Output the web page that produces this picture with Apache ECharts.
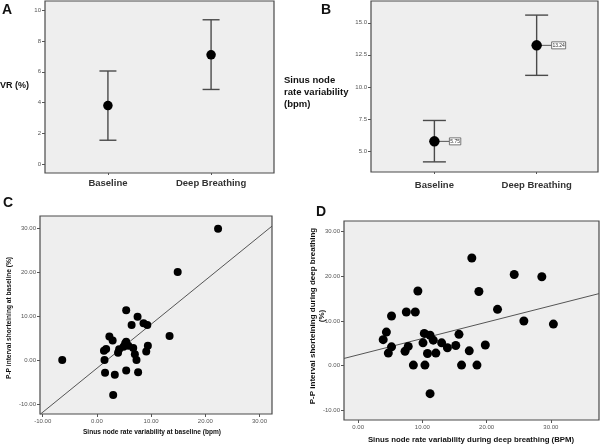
<!DOCTYPE html>
<html>
<head>
<meta charset="utf-8">
<script src="https://cdn.jsdelivr.net/npm/echarts@6/dist/echarts.min.js"></script>
<style>
html,body{margin:0;padding:0;background:#fff;}
#chart{width:600px;height:445px;}
</style>
</head>
<body>
<div id="chart"></div>
<script>
// ---------- DATA ----------
const categories = ['Baseline', 'Deep Breathing'];

// Panel A: VR (%) mean with error bars
const meanA = [3.8, 7.1];
const lowA = [1.55, 4.85];
const highA = [6.05, 9.38];
const ticksA = [0, 2, 4, 6, 8, 10];

// Panel B: Sinus node rate variability (bpm)
const meanB = [5.75, 13.24];
const lowB = [4.15, 10.9];
const highB = [7.38, 15.6];
const ticksB = [5, 7.5, 10, 12.5, 15];

// Panel C: baseline scatter [SNRV (bpm), P-P shortening (%)]
const pointsC = [
  [22.35, 29.8], [14.9, 20.0], [13.4, 5.4], [-6.4, 0.0], [3.0, -8.0],
  [5.4, 11.3], [7.5, 9.8], [6.4, 7.9], [8.6, 8.3], [9.3, 7.9],
  [2.3, 5.3], [2.9, 4.4], [5.4, 4.1], [1.3, 2.1], [1.7, 2.5],
  [4.1, 2.4], [4.9, 3.0], [5.8, 3.2], [6.7, 2.7], [3.9, 1.6],
  [7.0, 1.3], [9.4, 3.2], [9.1, 1.9], [7.3, 0.0], [1.4, 0.0],
  [1.5, -2.9], [3.3, -3.4], [5.4, -2.4], [7.6, -2.8], [5.2, 3.7]
];
const fitC = { intercept: -1.9, slope: 1.0 };
const ticksCx = [-10, 0, 10, 20, 30];
const ticksCy = [-10, 0, 10, 20, 30];

// Panel D: deep breathing scatter
const pointsD = [
  [17.7, 24.1], [24.3, 20.4], [28.6, 19.9], [9.3, 16.7], [18.8, 16.6],
  [21.7, 12.6], [5.2, 11.1], [7.5, 12.0], [8.9, 12.0], [25.8, 10.0],
  [30.4, 9.3], [4.4, 7.5], [3.9, 5.8], [5.2, 4.2], [4.7, 2.8],
  [7.8, 4.3], [7.3, 3.2], [10.3, 7.2], [11.2, 6.8], [10.1, 5.1],
  [11.7, 5.7], [10.8, 2.7], [12.1, 2.8], [13.0, 5.1], [13.9, 4.0],
  [15.2, 4.5], [15.7, 7.0], [17.3, 3.3], [8.6, 0.1], [10.4, 0.1],
  [16.1, 0.1], [18.5, 0.1], [19.8, 4.6], [11.2, -6.3]
];
const fitD = { intercept: 2.4, slope: 0.366 };
const ticksDx = [0, 10, 20, 30];
const ticksDy = [-10, 0, 10, 20, 30];

// ---------- CHART ----------
const FONT = 'Liberation Sans, Arial, sans-serif';
const chart = echarts.init(document.getElementById('chart'), null, { renderer: 'canvas' });

const gridStyle = { show: true, backgroundColor: '#eeeeee', borderColor: '#4a4a4a', borderWidth: 1.2 };
const grids = [
  Object.assign({ left: 45, top: 1, width: 229, height: 172 }, gridStyle),
  Object.assign({ left: 371, top: 1, width: 227, height: 171 }, gridStyle),
  Object.assign({ left: 40, top: 216, width: 232, height: 198 }, gridStyle),
  Object.assign({ left: 344, top: 221, width: 255, height: 199 }, gridStyle)
];

function valAxis(gridIndex, min, max, ticks, fmt) {
  return {
    type: 'value', gridIndex, min, max,
    splitLine: { show: false },
    axisLine: { show: false, onZero: false },
    axisTick: { show: true, inside: false, length: 3, customValues: ticks, lineStyle: { color: '#555' } },
    axisLabel: { show: true, customValues: ticks, formatter: fmt, fontSize: 6, color: '#555', fontFamily: FONT, margin: 4 }
  };
}

const catFmt = v => categories[Math.round(v)] || '';
const catTicks = categories.map((c, i) => i);

const xAxes = [
  valAxis(0, -0.61, 1.61, catTicks, catFmt),
  valAxis(1, -0.62, 1.60, catTicks, catFmt),
  valAxis(2, -10.5, 32.3, ticksCx, v => v.toFixed(2)),
  valAxis(3, -2.2, 37.5, ticksDx, v => v.toFixed(2))
];
xAxes[0].axisLabel = Object.assign({}, xAxes[0].axisLabel, { fontSize: 9.5, fontWeight: 'bold', color: '#333', margin: 5 });
xAxes[0].axisTick.length = 2;
xAxes[1].axisLabel = Object.assign({}, xAxes[1].axisLabel, { fontSize: 9.5, fontWeight: 'bold', color: '#333', margin: 8 });
xAxes[1].axisTick.length = 2;

const yAxes = [
  valAxis(0, -0.58, 10.6, ticksA, v => String(v)),
  valAxis(1, 3.36, 16.7, ticksB, v => v.toFixed(1)),
  valAxis(2, -12.3, 32.7, ticksCy, v => v.toFixed(2)),
  valAxis(3, -12.2, 32.4, ticksDy, v => v.toFixed(2))
];

function errorBarSeries(idx, low, high, capW) {
  return {
    type: 'custom', xAxisIndex: idx, yAxisIndex: idx,
    data: categories.map((c, i) => [i, low[i], high[i]]),
    encode: { x: 0, y: [1, 2] },
    renderItem: function (params, api) {
      const x = api.value(0);
      const pLo = api.coord([x, api.value(1)]);
      const pHi = api.coord([x, api.value(2)]);
      const st = { stroke: '#4a4a4a', lineWidth: 1.4 };
      const h = capW / 2;
      return {
        type: 'group', children: [
          { type: 'line', shape: { x1: pLo[0], y1: pLo[1], x2: pHi[0], y2: pHi[1] }, style: st },
          { type: 'line', shape: { x1: pLo[0] - h, y1: pLo[1], x2: pLo[0] + h, y2: pLo[1] }, style: st },
          { type: 'line', shape: { x1: pHi[0] - h, y1: pHi[1], x2: pHi[0] + h, y2: pHi[1] }, style: st }
        ]
      };
    },
    z: 2
  };
}

const dotStyle = { color: '#000', opacity: 1 };

function meanSeries(idx, means, size) {
  return {
    type: 'scatter', xAxisIndex: idx, yAxisIndex: idx,
    data: means.map((m, i) => [i, m]),
    symbol: 'circle', symbolSize: size,
    itemStyle: dotStyle, z: 3
  };
}

function fitLine(idx, fit, xmin, xmax) {
  return {
    type: 'line', xAxisIndex: idx, yAxisIndex: idx,
    data: [[xmin, fit.intercept + fit.slope * xmin], [xmax, fit.intercept + fit.slope * xmax]],
    symbol: 'none', clip: true,
    lineStyle: { color: '#555', width: 1 }, z: 2
  };
}

const labelB = {
  type: 'custom', xAxisIndex: 1, yAxisIndex: 1,
  data: meanB.map((m, i) => [i, m]),
  encode: { x: 0, y: 1 },
  renderItem: function (params, api) {
    const p = api.coord([api.value(0), api.value(1)]);
    const txt = api.value(1).toFixed(2);
    const w = txt.length * 2.6 + 1;
    const bx = p[0] + 15;
    return {
      type: 'group', children: [
        { type: 'line', shape: { x1: p[0], y1: p[1], x2: bx, y2: p[1] }, style: { stroke: '#555', lineWidth: 1 } },
        { type: 'rect', shape: { x: bx, y: p[1] - 3.5, width: w, height: 7 }, style: { fill: '#fff', stroke: '#555', lineWidth: 0.8 } },
        { type: 'text', style: { x: bx + w / 2, y: p[1], text: txt, fontSize: 5, fontFamily: FONT, fill: '#333', align: 'center', verticalAlign: 'middle' } }
      ]
    };
  },
  z: 1
};

const series = [
  errorBarSeries(0, lowA, highA, 17),
  meanSeries(0, meanA, 9.5),
  labelB,
  errorBarSeries(1, lowB, highB, 23),
  meanSeries(1, meanB, 10.5),
  fitLine(2, fitC, -10.5, 32.3),
  {
    type: 'scatter', xAxisIndex: 2, yAxisIndex: 2, data: pointsC,
    symbol: 'circle', symbolSize: 8, itemStyle: dotStyle, z: 3
  },
  fitLine(3, fitD, -2.2, 37.5),
  {
    type: 'scatter', xAxisIndex: 3, yAxisIndex: 3, data: pointsD,
    symbol: 'circle', symbolSize: 9, itemStyle: dotStyle, z: 3
  }
];

const titleStyle = { fontFamily: FONT, fontWeight: 'bold', fill: '#111' };
const graphic = [
  { type: 'text', left: 2, top: 3, style: Object.assign({ text: 'A', fontSize: 14 }, titleStyle) },
  { type: 'text', left: 321, top: 3, style: Object.assign({ text: 'B', fontSize: 14 }, titleStyle) },
  { type: 'text', left: 3, top: 196, style: Object.assign({ text: 'C', fontSize: 14 }, titleStyle) },
  { type: 'text', left: 316, top: 205, style: Object.assign({ text: 'D', fontSize: 14 }, titleStyle) },
  { type: 'text', left: 0, top: 81, style: Object.assign({ text: 'VR (%)', fontSize: 9 }, titleStyle) },
  { type: 'text', left: 284, top: 74, style: Object.assign({ text: 'Sinus node\nrate variability\n(bpm)', fontSize: 9.5, lineHeight: 12 }, titleStyle) },
  { type: 'text', x: 9, y: 318, rotation: Math.PI / 2, style: Object.assign({ text: 'P-P interval shorteining at baseline (%)', fontSize: 6.6, align: 'center', verticalAlign: 'middle' }, titleStyle) },
  { type: 'text', x: 152, y: 432, style: Object.assign({ text: 'Sinus node rate variability at baseline (bpm)', fontSize: 6.6, align: 'center', verticalAlign: 'middle' }, titleStyle) },
  { type: 'text', x: 317, y: 316, rotation: Math.PI / 2, style: Object.assign({ text: 'P-P interval shorteining during deep breathing\n(%)', fontSize: 8, lineHeight: 9, align: 'center', verticalAlign: 'middle' }, titleStyle) },
  { type: 'text', x: 471, y: 440, style: Object.assign({ text: 'Sinus node rate variability during deep breathing (BPM)', fontSize: 7.8, align: 'center', verticalAlign: 'middle' }, titleStyle) }
];

chart.setOption({
  animation: false,
  backgroundColor: '#ffffff',
  grid: grids,
  xAxis: xAxes,
  yAxis: yAxes,
  series: series,
  graphic: graphic
});
</script>
</body>
</html>
